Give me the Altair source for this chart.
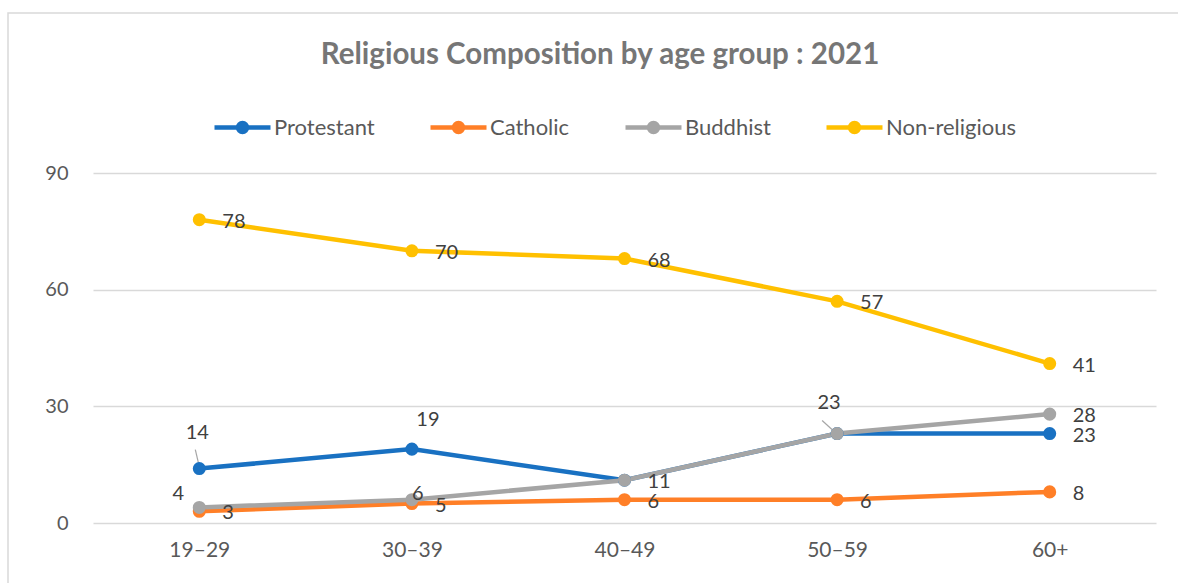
import altair as alt
import pandas as pd

AGE_GROUPS = ["19–29", "30–39", "40–49", "50–59", "60+"]
SERIES = ["Protestant", "Catholic", "Buddhist", "Non-religious"]
PROTESTANT = [14, 19, 11, 23, 23]
CATHOLIC = [3, 5, 6, 6, 8]
BUDDHIST = [4, 6, 11, 23, 28]
NON_RELIGIOUS = [78, 70, 68, 57, 41]
COLORS = ["#1971C2", "#FF7F27", "#A5A5A5", "#FFC000"]
Y_TICKS = [0, 30, 60, 90]
TITLE = "Religious Composition by age group : 2021"

values = {
    "Protestant": PROTESTANT,
    "Catholic": CATHOLIC,
    "Buddhist": BUDDHIST,
    "Non-religious": NON_RELIGIOUS,
}
rows = []
for s in SERIES:
    for a, v in zip(AGE_GROUPS, values[s]):
        rows.append({"series": s, "age": a, "value": v})
df = pd.DataFrame(rows)

FONT = "Lato"
W, H = 1063, 350

x_enc = alt.X(
    "age:N",
    sort=AGE_GROUPS,
    scale=alt.Scale(type="point", padding=0.5),
    axis=alt.Axis(
        title=None, domain=False, ticks=False, labelAngle=0, labelPadding=16,
        labelFontSize=21, labelColor="#595959", labelFont=FONT, grid=False,
    ),
)
y_enc = alt.Y(
    "value:Q",
    scale=alt.Scale(domain=[0, 90], nice=False, zero=True),
    axis=alt.Axis(
        title=None, values=Y_TICKS, domain=False, ticks=False, grid=True,
        gridColor="#d9d9d9", gridWidth=1.5, labelPadding=25,
        labelFontSize=20, labelColor="#595959", labelFont=FONT,
    ),
)
color_scale = alt.Scale(domain=SERIES, range=COLORS)

LEGEND_PATH = (
    "M-1,0 L1,0 "
    "M-0.071,0 A0.071,0.071 0 1,1 0.071,0 A0.071,0.071 0 1,1 -0.071,0 "
    "M-0.16,0 A0.16,0.16 0 1,1 0.16,0 A0.16,0.16 0 1,1 -0.16,0"
)

base = alt.Chart(df)

lines = base.mark_line(strokeWidth=4.5, strokeCap="round").encode(
    x=x_enc,
    y=y_enc,
    color=alt.Color(
        "series:N", scale=color_scale, sort=SERIES,
        legend=alt.Legend(
            title=None, orient="none", direction="horizontal",
            legendX=119, legendY=-76,
            symbolType=LEGEND_PATH, symbolSize=3136, symbolStrokeWidth=4.5,
            labelFontSize=22, labelColor="#595959", labelFont=FONT,
            labelOffset=1, columnPadding=46, symbolOpacity=1,
        ),
    ),
    detail="series:N",
)

points = base.mark_circle(size=170, opacity=1).encode(
    x=x_enc,
    y=y_enc,
    color=alt.Color("series:N", scale=color_scale, sort=SERIES, legend=None),
)

# label placement (pixel offsets from the point); default is right of the point
RIGHT = (23, 2)
LABEL_OFFSETS = {
    ("Protestant", "19–29"): (-2, -36),
    ("Protestant", "30–39"): (16, -29),
    ("Protestant", "50–59"): None,
    ("Buddhist", "19–29"): (-21, -13),
    ("Buddhist", "30–39"): (6, -6),
    ("Buddhist", "40–49"): None,
    ("Buddhist", "50–59"): (-8, -31),
}

label_layers = []
right_keys = []
for s in SERIES:
    for a in AGE_GROUPS:
        off = LABEL_OFFSETS.get((s, a), RIGHT)
        if off is None:
            continue
        if off == RIGHT:
            right_keys.append(s + "|" + a)
        else:
            label_layers.append(
                base.transform_calculate(key="datum.series + '|' + datum.age")
                .transform_filter(alt.datum.key == s + "|" + a)
                .mark_text(
                    dx=off[0], dy=off[1], align="center", baseline="middle",
                    fontSize=20, font=FONT, color="#404040",
                )
                .encode(x=x_enc, y=y_enc, text="value:Q")
            )
label_layers.append(
    base.transform_calculate(key="datum.series + '|' + datum.age")
    .transform_filter(alt.FieldOneOfPredicate(field="key", oneOf=right_keys))
    .mark_text(
        dx=RIGHT[0], dy=RIGHT[1], align="left", baseline="middle",
        fontSize=20, font=FONT, color="#404040",
    )
    .encode(x=x_enc, y=y_enc, text="value:Q")
)

# leader lines for the labels moved away from their points
LEADERS = {
    ("Protestant", "19–29"): (-4, -19, 0, -2),
    ("Buddhist", "50–59"): (-15, -13, -4, -3),
}
leader_layers = []
for (s, a), (ox, oy, ox2, oy2) in LEADERS.items():
    leader_layers.append(
        base.transform_calculate(key="datum.series + '|' + datum.age")
        .transform_filter(alt.datum.key == s + "|" + a)
        .mark_rule(
            color="#a6a6a6", strokeWidth=1.2,
            xOffset=ox, yOffset=oy, x2Offset=ox2, y2Offset=oy2,
        )
        .encode(x=x_enc, y=y_enc, x2="age:N", y2="value:Q")
    )

# outer chart frame: only its top and left edges fall inside the picture
frame = pd.DataFrame({"k": [0]})
border = alt.Chart(frame).mark_rect(
    fill="transparent", stroke="#d9d9d9", strokeWidth=1.5
).encode(
    x=alt.value(-85), x2=alt.value(1250), y=alt.value(-160), y2=alt.value(500)
)

# chart title as a text mark
title = alt.Chart(pd.DataFrame({"t": [TITLE]})).mark_text(
    fontSize=29.5, fontWeight="bold", color="#767676", font=FONT,
    align="center", baseline="middle",
).encode(text="t:N", x=alt.value(507), y=alt.value(-118))

chart = alt.layer(
    border, title, lines, *leader_layers, points, *label_layers
).properties(
    width=W,
    height=H,
    background="white",
    autosize=alt.AutoSizeParams(type="none"),
    padding={"left": 93, "top": 173, "right": 22, "bottom": 60},
).configure_view(strokeWidth=0, stroke="transparent")

chart.save("out.html", embed_options={"renderer": "svg", "actions": False})
